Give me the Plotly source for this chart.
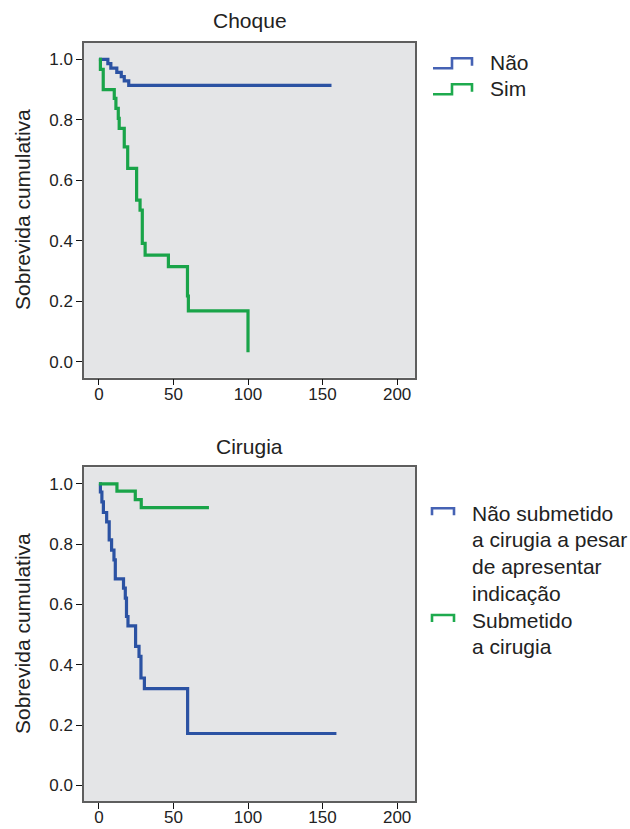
import plotly.graph_objects as go

# ---- Kaplan-Meier step data -------------------------------------------
# Panel 1: Choque
choque_nao_t = [0, 6, 8, 12, 15, 17, 20, 156]
choque_nao_s = [1.0, 0.986, 0.971, 0.957, 0.943, 0.929, 0.914, 0.914]

choque_sim_t = [0, 1, 2.9, 10.3, 11.4, 13, 13.6, 17, 19.3, 25.3, 27.6, 29.1, 31, 46.6, 59.4, 60, 100, 100]
choque_sim_s = [1.0, 0.967, 0.90, 0.871, 0.838, 0.805, 0.772, 0.711, 0.64, 0.535, 0.502, 0.392, 0.353,
                0.315, 0.218, 0.169, 0.169, 0.032]

# Panel 2: Cirugia
cir_nao_t = [0, 1, 2, 3, 5.2, 6.9, 8.5, 10.1, 11, 16.5, 17.7, 18.5, 19.5, 24.6, 26.9, 28.2, 30.5, 59.5, 159.3]
cir_nao_s = [1.0, 0.973, 0.940, 0.905, 0.874, 0.814, 0.78, 0.748, 0.685, 0.654, 0.621, 0.56, 0.529,
             0.461, 0.428, 0.356, 0.321, 0.172, 0.172]

cir_sim_t = [0, 12.1, 24.4, 28.4, 73.8]
cir_sim_s = [1.0, 0.976, 0.948, 0.921, 0.921]

panel_titles = ["Choque", "Cirugia"]
y_title = "Sobrevida cumulativa"
legend_choque = ["Não", "Sim"]
legend_cirugia = [["Não submetido", "a cirugia a pesar", "de apresentar", "indicação"],
                  ["Submetido", "a cirugia"]]
x_ticks = [0, 50, 100, 150, 200]
y_ticks = [0.0, 0.2, 0.4, 0.6, 0.8, 1.0]

BLUE = "#2B52A3"
GREEN = "#19A449"
BLUE_LEG = "#4562B4"
GREEN_LEG = "#1EAA4E"
FONT = "Liberation Sans, Arial, sans-serif"
TXT = "#222222"

W, H = 630, 829
ML, MR = 84, 215
PW = W - ML - MR


def px(x):
    return (x - ML) / PW


def py(y):
    return 1 - y / H


fig = go.Figure()

def add_step(t, s, color, xa, ya):
    fig.add_trace(go.Scatter(x=t, y=s, mode="lines", line=dict(color=color, width=3.2, shape="hv"),
                             xaxis=xa, yaxis=ya, showlegend=False, hoverinfo="skip"))

add_step(choque_nao_t, choque_nao_s, BLUE, "x", "y")
add_step(choque_sim_t, choque_sim_s, GREEN, "x", "y")
add_step(cir_nao_t, cir_nao_s, BLUE, "x2", "y2")
add_step(cir_sim_t, cir_sim_s, GREEN, "x2", "y2")

axis_common = dict(showline=True, linecolor="#5E5E5E", linewidth=1.5, mirror=True,
                   ticks="outside", ticklen=6, tickwidth=1.3, tickcolor="#111111",
                   showgrid=False, zeroline=False, automargin=False,
                   tickfont=dict(family=FONT, size=17, color=TXT))

xcommon = dict(axis_common, range=[-10, 212], tickvals=x_ticks, ticktext=[str(v) for v in x_ticks],
               ticklabelstandoff=-6)
ycommon = dict(axis_common, range=[-0.052, 1.055], tickvals=y_ticks,
               ticktext=[f"{v:.1f}" for v in y_ticks])

top_dom = [py(377.7), py(42.7)]
bot_dom = [py(801), py(467.3)]

fig.update_layout(
    width=W, height=H,
    margin=dict(l=ML, r=MR, t=0, b=0, pad=0),
    paper_bgcolor="white",
    plot_bgcolor="#E4E5E7",
    xaxis=dict(xcommon, domain=[0, 1], anchor="y"),
    yaxis=dict(ycommon, domain=top_dom, anchor="x"),
    xaxis2=dict(xcommon, domain=[0, 1], anchor="y2"),
    yaxis2=dict(ycommon, domain=bot_dom, anchor="x2"),
    showlegend=False,
)

annotations = []
# panel titles
for title, ycen in zip(panel_titles, [20, 446]):
    annotations.append(dict(text=title, xref="paper", yref="paper", x=0.5, y=py(ycen),
                            xanchor="center", yanchor="middle", showarrow=False,
                            font=dict(family=FONT, size=21, color=TXT)))
# y-axis titles
for ycen in [210, 634]:
    annotations.append(dict(text=y_title, xref="paper", yref="paper", x=px(22), y=py(ycen),
                            xanchor="center", yanchor="middle", textangle=-90, showarrow=False,
                            font=dict(family=FONT, size=21, color=TXT)))

# legend for Choque: step glyphs
for label, color, ylow in zip(legend_choque, [BLUE_LEG, GREEN_LEG], [68.3, 94.3]):
    yhigh = ylow - 10
    path = (f"M {px(433)} {py(ylow)} L {px(452)} {py(ylow)} L {px(452)} {py(yhigh)} "
            f"L {px(472)} {py(yhigh)} L {px(472)} {py(ylow - 2.5)}")
    fig.add_shape(type="path", xref="paper", yref="paper", path=path,
                  line=dict(color=color, width=2.6))
    annotations.append(dict(text=label, xref="paper", yref="paper", x=px(488), y=py(ylow - 5.5),
                            xanchor="left", yanchor="middle", showarrow=False,
                            font=dict(family=FONT, size=21, color=TXT)))

# legend for Cirugia: bracket glyphs + multi-line labels
line_gap = 26.6
for lines, color, ytop in zip(legend_cirugia, [BLUE_LEG, GREEN_LEG], [508.3, 615.0]):
    path = (f"M {px(432)} {py(ytop + 7)} L {px(432)} {py(ytop)} L {px(454)} {py(ytop)} "
            f"L {px(454)} {py(ytop + 7)}")
    fig.add_shape(type="path", xref="paper", yref="paper", path=path,
                  line=dict(color=color, width=2.6))
    for i, ln in enumerate(lines):
        annotations.append(dict(text=ln, xref="paper", yref="paper", x=px(470),
                                y=py(ytop + 5 + i * line_gap),
                                xanchor="left", yanchor="middle", showarrow=False,
                                font=dict(family=FONT, size=21, color=TXT)))

fig.update_layout(annotations=annotations)

fig.write_html("out.html")
